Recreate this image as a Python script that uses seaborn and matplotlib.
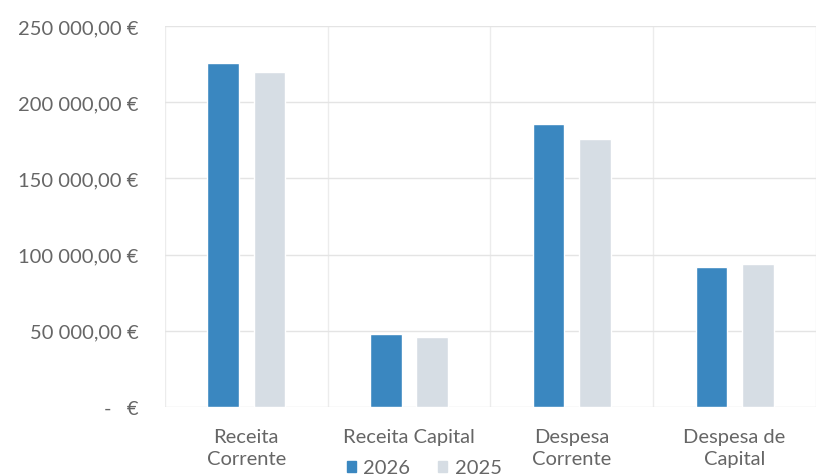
import pandas as pd
import seaborn as sns
import matplotlib.pyplot as plt
from matplotlib.ticker import FuncFormatter
from matplotlib.patches import Patch

categories = ['Receita\nCorrente', 'Receita Capital', 'Despesa\nCorrente', 'Despesa de\nCapital']
years = ['2026', '2025']
values_2026 = [226000, 48000, 186000, 92000]
values_2025 = [220000, 46000, 176000, 94000]

colors = {'2026': '#3a87c0', '2025': '#d6dde4'}

df = pd.DataFrame({
    'categoria': categories * 2,
    'ano': ['2026'] * 4 + ['2025'] * 4,
    'valor': values_2026 + values_2025,
})

sns.set_style('white')
plt.rcParams['font.family'] = ['Lato', 'DejaVu Sans']

fig = plt.figure(figsize=(8.16, 4.77), dpi=100)
ax = fig.add_axes([0.202, 0.145, 0.798, 0.798])

sns.barplot(data=df, x='categoria', y='valor', hue='ano', hue_order=years,
            palette=colors, width=0.57, gap=0.32, saturation=1, ax=ax, legend=False)

ax.set_xlim(-0.5, 3.5)
ax.set_ylim(0, 250000)
ax.set_yticks(range(0, 250001, 50000))


def euro(v, pos):
    if v == 0:
        return '-   €'
    return f'{v:,.2f} €'.replace(',', ' ').replace('.', ',')


ax.yaxis.set_major_formatter(FuncFormatter(euro))
ax.set_xticks([0, 1, 2, 3])
ax.set_xticks([-0.5, 0.5, 1.5, 2.5, 3.5], minor=True)
ax.grid(axis='y', color='#e4e4e4', linewidth=1)
ax.grid(axis='x', which='minor', color='#ececec', linewidth=1)
ax.set_axisbelow(True)
for s in ax.spines.values():
    s.set_visible(False)
ax.tick_params(axis='both', which='both', length=0, labelsize=14.5, colors='#666666')
ax.tick_params(axis='y', pad=19)
ax.tick_params(axis='x', pad=15)
for lbl in ax.get_xticklabels():
    lbl.set_linespacing(1.4)
ax.set_xlabel('')
ax.set_ylabel('')

handles = [Patch(color=colors[y], label=y) for y in years]
fig.legend(handles=handles, loc='center', bbox_to_anchor=(0.52, 0.017), ncol=2,
           frameon=False, fontsize=14.5, handlelength=0.45, handleheight=0.45,
           columnspacing=1.4, handletextpad=0.35, labelcolor='#666666')

fig.savefig('out.png', dpi=100)
